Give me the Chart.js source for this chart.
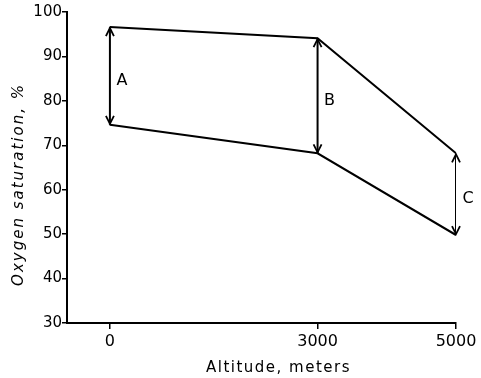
<!DOCTYPE html>
<html>
<head>
<meta charset="utf-8">
<script src="https://cdn.jsdelivr.net/npm/chart.js@4"></script>
<style>
  body { margin: 0; background: #fff; }
  #wrap { width: 481px; height: 378px; }
</style>
</head>
<body>
<div id="wrap"><canvas id="grafica" width="481" height="378"></canvas></div>
<script>
// Datos
const altitudes = [0, 3000, 5000];
const saturacionAlta = [96.6, 94.1, 68.2];
const saturacionBaja = [74.6, 68.2, 49.8];
const etiquetasFlecha = ["A", "B", "C"];
const ticksAltitud = [0, 3000, 5000];
const tituloX = "Altitude, meters";
const tituloY = "Oxygen saturation, %";

const fuente = "'DejaVu Sans', sans-serif";

// Una flecha vertical por cada altitud, de la curva baja a la alta
const flechas = altitudes.map((alt, i) => ({
    data: [{ x: alt, y: saturacionBaja[i] }, { x: alt, y: saturacionAlta[i] }],
    borderColor: "#000",
    borderWidth: 2,
    pointRadius: 0,
    esFlecha: true,
    etiqueta: etiquetasFlecha[i],
}));

// Plugin para puntas de flecha y letras
const puntasFlecha = {
    id: "puntasFlecha",
    afterDatasetsDraw(chart) {
        const ctx = chart.ctx;
        chart.data.datasets.forEach((ds, i) => {
            if (!ds.esFlecha) return;
            const pts = chart.getDatasetMeta(i).data;
            const abajo = pts[0], arriba = pts[1];
            ctx.save();
            ctx.strokeStyle = "#000";
            ctx.lineWidth = 1.8;
            ctx.beginPath();
            ctx.moveTo(arriba.x - 4, arriba.y + 9);
            ctx.lineTo(arriba.x, arriba.y + 1);
            ctx.lineTo(arriba.x + 4, arriba.y + 9);
            ctx.moveTo(abajo.x - 4, abajo.y - 9);
            ctx.lineTo(abajo.x, abajo.y - 1);
            ctx.lineTo(abajo.x + 4, abajo.y - 9);
            ctx.stroke();
            ctx.fillStyle = "#000";
            ctx.font = "16px " + fuente;
            ctx.textAlign = "center";
            ctx.textBaseline = "middle";
            ctx.fillText(ds.etiqueta, abajo.x + 12, (abajo.y + arriba.y) / 2 + 5);
            ctx.restore();
        });
    },
    // Títulos de ejes con espaciado entre letras
    afterDraw(chart) {
        const ctx = chart.ctx;
        const area = chart.chartArea;
        ctx.save();
        ctx.fillStyle = "#000";
        ctx.textAlign = "center";
        ctx.textBaseline = "middle";
        ctx.letterSpacing = "1.5px";
        ctx.font = "15px " + fuente;
        ctx.fillText(tituloX, (area.left + area.right) / 2 + 17, 368);
        ctx.translate(19, (area.top + area.bottom) / 2 + 17);
        ctx.rotate(-Math.PI / 2);
        ctx.letterSpacing = "2px";
        ctx.font = "italic 15px " + fuente;
        ctx.fillText(tituloY, 0, 0);
        ctx.restore();
    },
};

new Chart(document.getElementById("grafica").getContext("2d"), {
    type: "line",
    data: {
        datasets: [
            {
                data: altitudes.map((x, i) => ({ x, y: saturacionAlta[i] })),
                borderColor: "#000",
                borderWidth: 2,
                pointRadius: 0,
                tension: 0,
            },
            {
                data: altitudes.map((x, i) => ({ x, y: saturacionBaja[i] })),
                borderColor: "#000",
                borderWidth: 2,
                pointRadius: 0,
                tension: 0,
            },
            ...flechas,
        ],
    },
    options: {
        responsive: false,
        animation: false,
        layout: { padding: { left: 0, top: 12, right: 25, bottom: 0 } },
        plugins: { legend: { display: false }, tooltip: { enabled: false } },
        scales: {
            x: {
                type: "linear",
                min: -620,
                max: 5000,
                afterBuildTicks: (scale) => {
                    scale.ticks = ticksAltitud.map((v) => ({ value: v }));
                },
                afterFit: (scale) => { scale.height = 55; },
                grid: { drawOnChartArea: false, tickLength: 6, color: "#000", lineWidth: 1.5 },
                border: { color: "#000", width: 2 },
                ticks: {
                    color: "#000",
                    padding: 3,
                    font: { family: fuente, size: 16 },
                    maxRotation: 0,
                    callback: (v) => String(v),
                },
            },
            y: {
                min: 30,
                max: 100,
                afterFit: (scale) => { scale.width = 67; },
                grid: { drawOnChartArea: false, tickLength: 5, color: "#000", lineWidth: 1.5 },
                border: { color: "#000", width: 2 },
                ticks: { stepSize: 10, color: "#000", padding: 0, font: { family: fuente, size: 15 } },
            },
        },
    },
    plugins: [puntasFlecha],
});
</script>
</body>
</html>
